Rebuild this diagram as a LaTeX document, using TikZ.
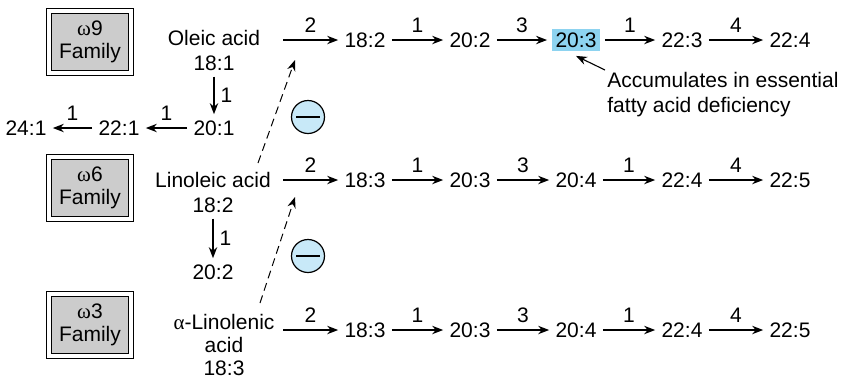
\documentclass[tikz,border=0pt]{standalone}
\usepackage{fontspec}
\setmainfont{Liberation Sans}
\newfontfamily\greekfont{Liberation Serif}
\definecolor{FAhigh}{HTML}{8DD3F0}
\definecolor{FAcirc}{HTML}{C8E9F8}
\definecolor{FAbox}{HTML}{CCCCCC}
\usetikzlibrary{arrows.meta}

\begin{document}
\begin{tikzpicture}[x=0.5pt, y=-0.5pt,
      every node/.style={font=\fontsize{10.5}{12.5}\selectfont, inner sep=3pt},
      fam/.style={draw, double, double distance=1.8pt, line width=0.5pt, fill=FAbox,
         minimum width=40.75pt, minimum height=31.25pt, align=center, inner sep=1pt,
         font=\fontsize{10.5}{11.5}\selectfont},
      acid/.style={align=center},
      arr/.style={-{Stealth[length=5.5pt, width=4.2pt, inset=1.8pt]}, line width=0.65pt},
      lab/.style={midway, above, inner sep=3.5pt},
      inhib/.style={arr, dash pattern=on 4pt off 2.5pt, line width=0.5pt},
      minus/.style={circle, draw, fill=FAcirc, minimum size=16.5pt, inner sep=0pt, line width=0.6pt}]
   \useasboundingbox (0,0) rectangle (842,377);
   % Family boxes
   \node[fam] (w9) at (90,42) {{\greekfont ω}9\\Family};
   \node[fam] (w6) at (90,188) {{\greekfont ω}6\\Family};
   \node[fam] (w3) at (90,325) {{\greekfont ω}3\\Family};
   % Parent acids
   \node[acid] (oleic) at (214,50) {Oleic acid\\18:1};
   \node[acid] (linoleic) at (213,192) {Linoleic acid\\18:2};
   \node[acid, font=\fontsize{10.5}{11.5}\selectfont] (linolenic) at (224,345) {{\greekfont α}-Linolenic\\acid\\18:3};
   % omega 9 side chain: 20:1 -> 22:1 -> 24:1
   \node (c201) at (214,128) {20:1};
   \node (c221) at (119,128) {22:1};
   \node (c241) at (26,128) {24:1};
   \draw[arr] (oleic.south) -- node[right]{1} (c201.north);
   \draw[arr] (c201) -- node[lab]{1} (c221);
   \draw[arr] (c221) -- node[lab]{1} (c241);
   % omega 6 side step: 20:2
   \node (c202) at (213,272) {20:2};
   \draw[arr] (linoleic.south) -- node[right]{1} (c202.north);
   % omega 9 row
   \coordinate (s9) at (283,40);
   \node (o182) at (365,40) {18:2};
   \node (o202) at (470,40) {20:2};
   \node[fill=FAhigh, inner sep=1.75pt, outer sep=2.5pt] (o203) at (576,40) {20:3};
   \node (o223) at (682,40) {22:3};
   \node (o224) at (790,40) {22:4};
   \draw[arr] (s9) -- node[lab]{2} (o182);
   \draw[arr] (o182) -- node[lab]{1} (o202);
   \draw[arr] (o202) -- node[lab]{3} (o203);
   \draw[arr] (o203) -- node[lab]{1} (o223);
   \draw[arr] (o223) -- node[lab]{4} (o224);
   % omega 6 row
   \coordinate (s6) at (283,180);
   \node (n183) at (365,180) {18:3};
   \node (n203) at (470,180) {20:3};
   \node (n204) at (576,180) {20:4};
   \node (n224) at (682,180) {22:4};
   \node (n225) at (790,180) {22:5};
   \draw[arr] (s6) -- node[lab]{2} (n183);
   \draw[arr] (n183) -- node[lab]{1} (n203);
   \draw[arr] (n203) -- node[lab]{3} (n204);
   \draw[arr] (n204) -- node[lab]{1} (n224);
   \draw[arr] (n224) -- node[lab]{4} (n225);
   % omega 3 row
   \coordinate (s3) at (283,330);
   \node (l183) at (365,330) {18:3};
   \node (l203) at (470,330) {20:3};
   \node (l204) at (576,330) {20:4};
   \node (l224) at (682,330) {22:4};
   \node (l225) at (790,330) {22:5};
   \draw[arr] (s3) -- node[lab]{2} (l183);
   \draw[arr] (l183) -- node[lab]{1} (l203);
   \draw[arr] (l203) -- node[lab]{3} (l204);
   \draw[arr] (l204) -- node[lab]{1} (l224);
   \draw[arr] (l224) -- node[lab]{4} (l225);
   % Competition (dashed) and inhibition signs
   \coordinate (d6) at (258,163);
   \coordinate (d6tip) at (295,60);
   \coordinate (d3) at (260,303);
   \coordinate (d3tip) at (295,197);
   \draw[inhib] (d6) -- (d6tip);
   \draw[inhib] (d3) -- (d3tip);
   \node[minus] (m1) at (308,117) {\rule{12pt}{0.9pt}};
   \node[minus] (m2) at (308,256) {\rule{12pt}{0.9pt}};
   % Note on 20:3
   \node[align=left, anchor=north west] (note) at (601,66) {Accumulates in essential\\fatty acid deficiency};
   \draw[arr, line width=0.55pt] ([shift={(2pt,-2pt)}]note.north west) -- (o203.south);
\end{tikzpicture}
\end{document}
